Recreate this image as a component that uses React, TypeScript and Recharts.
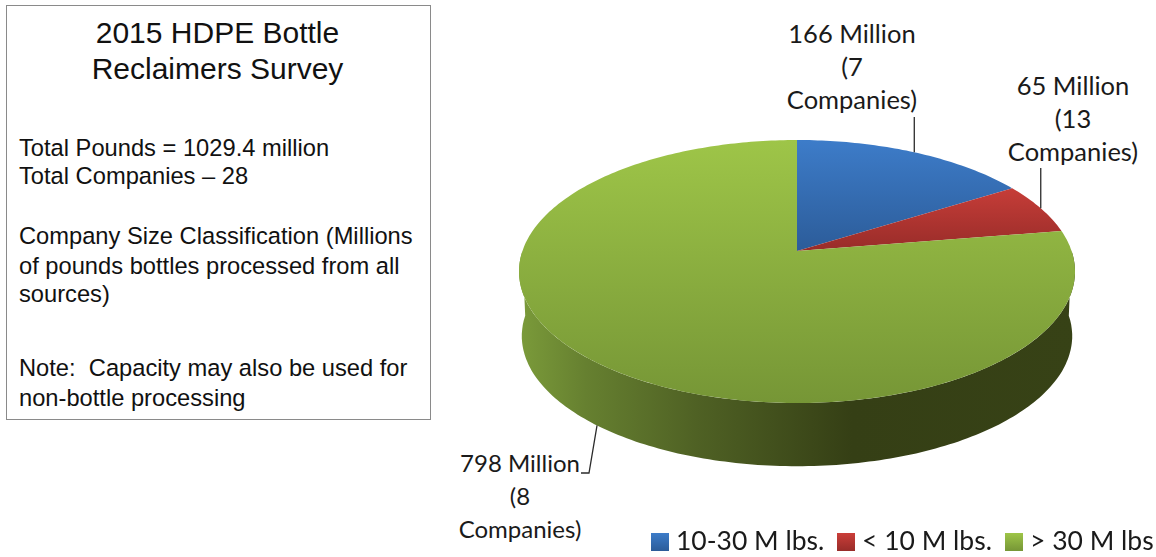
import { Legend, Pie, PieChart, Cell } from "recharts";

const categories = ["10-30 M lbs.", "< 10 M lbs.", "> 30 M lbs"];
const pounds = [166, 65, 798];
const sliceLabels = [
  ["166 Million", "(7", "Companies)"],
  ["65 Million", "(13", "Companies)"],
  ["798 Million", "(8", "Companies)"],
];
const titleLines = ["2015 HDPE Bottle", "Reclaimers Survey"];
const noteLines = [
  { text: "Total Pounds = 1029.4 million", top: 131 },
  { text: "Total Companies \u2013 28", top: 159 },
  { text: "Company Size Classification (Millions", top: 219 },
  { text: "of pounds bottles processed from all", top: 249 },
  { text: "sources)", top: 277 },
  { text: "Note:  Capacity may also be used for", top: 351 },
  { text: "non-bottle processing", top: 381 },
];

const chartData = categories.map((name, i) => ({ name, value: pounds[i] }));
const fills = ["url(#blueTop)", "url(#redTop)", "url(#greenTop)"];
const legendFills = ["url(#blueKey)", "url(#redKey)", "url(#greenKey)"];

// the disc is drawn in perspective, so the apex sits above the middle of the ellipse
const PERSPECTIVE = 0.156;
const X_SCALE = 0.9877;
const Y_SCALE = 0.4615;
const WALL_SHRINK = 0.99;
const WALL_DROP = 64.5;
const MID_OFFSET = 20.5;

const rim = (theta: number, cx: number, cy: number, r: number) => {
  const rad = (theta * Math.PI) / 180;
  const d = 1 + PERSPECTIVE * Math.cos(rad);
  return {
    x: cx + (r * X_SCALE * Math.sin(rad)) / d,
    y: cy - (r * Y_SCALE * Math.cos(rad)) / d,
  };
};

const lowerRim = (theta: number, cx: number, cy: number, r: number) => {
  const p = rim(theta, cx, cy, r);
  const midY = cy + MID_OFFSET;
  return {
    x: cx + (p.x - cx) * WALL_SHRINK,
    y: midY + (p.y - midY) * WALL_SHRINK + WALL_DROP,
  };
};

const sweep = (from: number, to: number) => {
  const out: number[] = [];
  for (let t = from; t < to; t += 1) out.push(t);
  out.push(to);
  return out;
};

const toPath = (pts: { x: number; y: number }[]) =>
  pts.map((p, i) => `${i ? "L" : "M"}${p.x.toFixed(1)} ${p.y.toFixed(1)}`).join(" ");

function Slice(props: any) {
  const { cx, cy, outerRadius, startAngle, endAngle, fill } = props;
  const from = 90 - startAngle;
  const to = 90 - endAngle;
  const top = sweep(from, to).map((t) => rim(t, cx, cy, outerRadius));
  const wallFrom = Math.max(from, 90);
  const wallTo = Math.min(to, 270);

  let wall = null;
  if (wallTo > wallFrom) {
    const angles = sweep(wallFrom, wallTo);
    const upper = angles.map((t) => rim(t, cx, cy, outerRadius));
    const lower = angles.map((t) => lowerRim(t, cx, cy, outerRadius)).reverse();
    wall = <path d={toPath([...upper, ...lower]) + " Z"} fill="url(#greenWall)" />;
  }

  return (
    <g>
      {wall}
      <path d={toPath([{ x: cx, y: cy }, ...top]) + " Z"} fill={fill} />
    </g>
  );
}

const labelSpots = [
  { x: 852, y: 43, leaderTop: 117, size: 25.5 },
  { x: 1073, y: 95, leaderTop: 168, size: 25.5 },
  { x: 520, y: 472, leaderTop: 0, size: 24 },
];

function SliceLabel(props: any) {
  const { cx, cy, outerRadius, midAngle, index } = props;
  const theta = 90 - midAngle;
  const spot = labelSpots[index];
  let leader = "";
  if (theta < 180) {
    const p = rim(theta, cx, cy, outerRadius);
    leader = `M${p.x} ${p.y} L${p.x} ${spot.leaderTop}`;
  } else {
    const p = lowerRim(theta, cx, cy, outerRadius);
    leader = `M${p.x} ${p.y} L589 473 L581 473`;
  }
  return (
    <g>
      <path d={leader} fill="none" stroke="#2b2b2b" strokeWidth={1.3} />
      {sliceLabels[index].map((line, i) => (
        <text
          key={line}
          x={spot.x}
          y={spot.y + i * 33}
          textAnchor="middle"
          fontFamily="Lato, sans-serif"
          fontSize={spot.size}
          fill="#1a1a1a"
        >
          {line}
        </text>
      ))}
    </g>
  );
}

function ChartLegend({ payload }: any) {
  return (
    <svg width={520} height={36} style={{ display: "block", overflow: "visible" }}>
      {(payload ?? []).map((entry: any, i: number) => {
        const x = [3, 189, 357][i];
        return (
          <g key={entry.value}>
            <rect x={x} y={8} width={18} height={18} fill={legendFills[i]} />
            <text
              x={x + 25}
              y={25}
              fontFamily="Lato, sans-serif"
              fontSize={26.5}
              fill="#1a1a1a"
            >
              {entry.value}
            </text>
          </g>
        );
      })}
    </svg>
  );
}

export default function App() {
  return (
    <div
      style={{
        position: "absolute",
        left: 0,
        top: 0,
        width: 1156,
        height: 557,
        background: "#fff",
        filter: "blur(0.4px)",
      }}
    >
      <div
        style={{
          position: "absolute",
          left: 6,
          top: 5,
          width: 423,
          height: 413,
          border: "1.5px solid #8a8a8a",
          fontFamily: "'Liberation Sans', Arial, sans-serif",
          color: "#111",
        }}
      >
        {titleLines.map((line, i) => (
          <div
            key={line}
            style={{
              position: "absolute",
              left: -2,
              right: 0,
              top: 9 + i * 36,
              textAlign: "center",
              fontSize: 30,
              lineHeight: "36px",
            }}
          >
            {line}
          </div>
        ))}
        {noteLines.map((line) => (
          <div
            key={line.text}
            style={{
              position: "absolute",
              left: 12,
              top: line.top - 3,
              fontSize: 23.7,
              lineHeight: "28px",
              whiteSpace: "pre",
            }}
          >
            {line.text}
          </div>
        ))}
      </div>

      <PieChart
        width={1156}
        height={557}
        margin={{ top: 0, right: 0, bottom: 0, left: 0 }}
        style={{ position: "absolute", left: 0, top: 0 }}
      >
        <defs>
          <linearGradient id="blueTop" x1="0" y1="0" x2="0" y2="1">
            <stop offset="0" stopColor="#3d7cc9" />
            <stop offset="1" stopColor="#2c5c99" />
          </linearGradient>
          <linearGradient id="redTop" x1="0" y1="0" x2="0" y2="1">
            <stop offset="0" stopColor="#c63d38" />
            <stop offset="1" stopColor="#982c29" />
          </linearGradient>
          <linearGradient id="greenTop" x1="0" y1="0" x2="0" y2="1">
            <stop offset="0" stopColor="#9ec548" />
            <stop offset="1" stopColor="#769636" />
          </linearGradient>
          <linearGradient id="greenWall" x1="0" y1="0" x2="1" y2="0">
            <stop offset="0" stopColor="#7b9b3a" />
            <stop offset="0.12" stopColor="#668030" />
            <stop offset="0.32" stopColor="#4f6124" />
            <stop offset="0.6" stopColor="#353f15" />
            <stop offset="1" stopColor="#374216" />
          </linearGradient>
          <linearGradient id="blueKey" x1="0" y1="0" x2="0" y2="1">
            <stop offset="0" stopColor="#3d7cc9" />
            <stop offset="1" stopColor="#2c5c99" />
          </linearGradient>
          <linearGradient id="redKey" x1="0" y1="0" x2="0" y2="1">
            <stop offset="0" stopColor="#cb3e39" />
            <stop offset="1" stopColor="#982c29" />
          </linearGradient>
          <linearGradient id="greenKey" x1="0" y1="0" x2="0" y2="1">
            <stop offset="0" stopColor="#9ec548" />
            <stop offset="1" stopColor="#769636" />
          </linearGradient>
        </defs>
        <Pie
          data={chartData}
          dataKey="value"
          nameKey="name"
          cx={797}
          cy={251}
          outerRadius={278}
          startAngle={90}
          endAngle={-270}
          stroke="none"
          shape={Slice}
          label={SliceLabel}
          labelLine={false}
          isAnimationActive={false}
        >
          {chartData.map((d, i) => (
            <Cell key={d.name} fill={fills[i]} />
          ))}
        </Pie>
        <Legend
          content={ChartLegend}
          wrapperStyle={{ position: "absolute", left: 648, top: 525, width: 520, height: 36 }}
        />
      </PieChart>
    </div>
  );
}
